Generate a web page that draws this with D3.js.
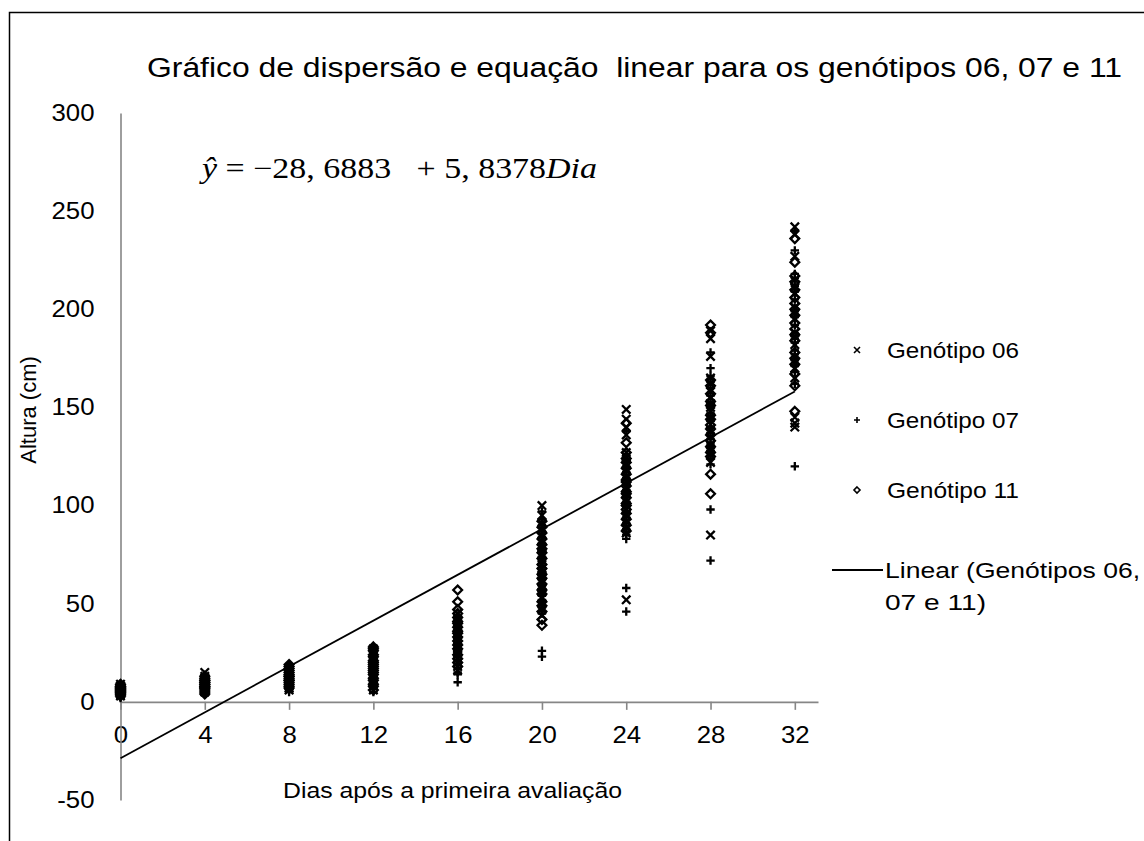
<!DOCTYPE html>
<html>
<head>
<meta charset="utf-8">
<script src="https://cdn.jsdelivr.net/npm/d3@7"></script>
<style>
  body { margin: 0; background: #fff; }
  svg { display: block; }
</style>
</head>
<body>
<div id="chart"></div>
<script>
// dias de avaliação
const dias = [0, 4, 8, 12, 16, 20, 24, 28, 32];
const yTicks = [-50, 0, 50, 100, 150, 200, 250, 300];

// alturas (cm), uma lista por dia
const genotipo06 = [
    [5, 6, 7, 4, 8, 6, 5, 9, 7, 3, 6, 8, 5, 7, 4],
    [8, 10, 12, 6, 9, 11, 15, 7, 13, 9, 5, 10, 8, 12, 11],
    [10, 14, 12, 8, 16, 11, 13, 6, 15, 9, 17, 12, 7, 14, 10],
    [12, 18, 24, 8, 15, 21, 27, 10, 17, 22, 6, 14, 19, 25, 11, 16, 9, 20],
    [20, 28, 35, 42, 16, 25, 31, 38, 45, 22, 29, 34, 18, 40, 27, 33, 24, 37],
    [100, 95, 88, 82, 75, 70, 64, 58, 53, 47, 91, 79, 66, 72, 85, 56, 61, 50, 44, 68],
    [149, 144, 140, 125, 118, 112, 106, 100, 95, 89, 86, 121, 109, 103, 115, 92, 98, 52, 136, 127],
    [189, 185, 176, 165, 158, 150, 145, 138, 131, 126, 122, 155, 162, 148, 135, 85, 129, 152],
    [242, 238, 227, 215, 208, 201, 195, 188, 182, 176, 170, 165, 145, 142, 140, 211, 198, 186, 173]
];
const genotipo07 = [
    [4, 5, 6, 3, 7, 5, 8, 6, 4, 2, 5, 7, 6, 3, 5],
    [7, 9, 11, 5, 8, 10, 12, 6, 4, 9, 13, 7, 10, 8, 6],
    [9, 12, 15, 7, 11, 13, 5, 16, 10, 14, 8, 12, 17, 6, 11],
    [10, 16, 22, 28, 7, 13, 19, 25, 11, 17, 23, 5, 14, 20, 26, 9, 15, 21],
    [10, 15, 23, 30, 36, 44, 19, 26, 32, 39, 21, 28, 17, 34, 41, 25, 14, 30],
    [97, 90, 84, 77, 71, 65, 59, 54, 48, 26, 23, 81, 74, 62, 87, 67, 57, 93, 52, 45],
    [138, 126, 120, 114, 108, 102, 97, 91, 85, 83, 123, 117, 111, 105, 99, 94, 88, 58, 46, 119],
    [178, 170, 163, 156, 147, 140, 134, 128, 124, 98, 72, 160, 152, 143, 137, 121, 166, 132],
    [240, 230, 218, 212, 205, 199, 192, 185, 179, 174, 168, 162, 120, 209, 196, 183, 171, 216, 177]
];
const genotipo11 = [
    [6, 7, 5, 8, 4, 6, 9, 7, 5, 3, 6, 8, 4, 7, 5],
    [9, 11, 6, 10, 8, 12, 7, 5, 13, 9, 11, 4, 10, 8, 7],
    [19, 13, 11, 15, 9, 16, 12, 8, 14, 10, 17, 7, 13, 18, 11],
    [14, 20, 26, 9, 17, 23, 12, 18, 28, 6, 15, 21, 27, 11, 19, 24, 8, 16],
    [57, 51, 47, 43, 38, 33, 29, 24, 20, 36, 41, 27, 31, 45, 22, 35, 18, 40],
    [92, 86, 80, 73, 68, 63, 57, 51, 46, 42, 39, 89, 76, 70, 83, 60, 55, 49, 78, 65],
    [142, 132, 124, 119, 113, 107, 101, 96, 90, 87, 122, 116, 110, 104, 93, 127, 98, 112, 106, 100],
    [192, 188, 164, 157, 151, 146, 141, 136, 130, 125, 116, 106, 161, 153, 139, 127, 144, 133],
    [236, 224, 217, 210, 203, 197, 190, 184, 178, 172, 167, 161, 148, 214, 200, 187, 175, 206, 193]
];

// regressão linear ajustada
const intercepto = -28.6883;
const inclinacao = 5.8378;

const width = 1144, height = 841;
const svg = d3.select("#chart").append("svg")
    .attr("width", width).attr("height", height);

// moldura
svg.append("rect")
    .attr("x", 9.5).attr("y", 12.5).attr("width", 1200).attr("height", 900)
    .attr("fill", "#fff").attr("stroke", "#000").attr("stroke-width", 1.5);

const x = d3.scaleLinear().domain([0, 33.1]).range([120.5, 818]);
const y = d3.scaleLinear().domain([-50, 300]).range([800, 113]);

const font = "'Liberation Sans', Arial, sans-serif";
const grey = "#868686";

// o texto do original é um pouco mais largo: estica na horizontal
function alarga(sel, fator) {
    sel.each(function () {
        const w = this.getComputedTextLength();
        d3.select(this).attr("textLength", w * fator).attr("lengthAdjust", "spacingAndGlyphs");
    });
}

// eixo X
const gx = svg.append("g").attr("transform", `translate(0,${y(0)})`)
    .call(d3.axisBottom(x).tickValues(dias).tickSizeInner(8).tickSizeOuter(0).tickPadding(17));
gx.select(".domain").attr("stroke", grey).attr("stroke-width", 1.6);
gx.selectAll(".tick line").attr("stroke", grey).attr("stroke-width", 1.6);
gx.selectAll(".tick text").attr("font-family", font).attr("font-size", 23).attr("fill", "#000");

// eixo Y
const gy = svg.append("g").attr("transform", `translate(${x(0)},0)`)
    .call(d3.axisLeft(y).tickValues(yTicks).tickSize(0).tickPadding(26).tickFormat(d => String(d)));
gy.select(".domain").attr("stroke", grey).attr("stroke-width", 1.6);
gy.selectAll(".tick text").attr("font-family", font).attr("font-size", 23).attr("fill", "#000");

// marcadores
function markerPath(tipo, r) {
    if (tipo === "x") return `M${-r},${-r}L${r},${r}M${-r},${r}L${r},${-r}`;
    if (tipo === "+") return `M${-r},0L${r},0M0,${-r}L0,${r}`;
    return `M0,${-r}L${r},0L0,${r}L${-r},0Z`;
}

const series = [
    { nome: "Genótipo 06", valores: genotipo06, tipo: "x" },
    { nome: "Genótipo 07", valores: genotipo07, tipo: "+" },
    { nome: "Genótipo 11", valores: genotipo11, tipo: "d" }
];

series.forEach(s => {
    const pts = [];
    s.valores.forEach((lista, i) => lista.forEach(v => pts.push({ dia: dias[i], altura: v })));
    svg.append("g").selectAll("path")
        .data(pts).enter().append("path")
        .attr("transform", d => `translate(${x(d.dia)},${y(d.altura)})`)
        .attr("d", markerPath(s.tipo, s.tipo === "d" ? 4.4 : 4.2))
        .attr("fill", "none").attr("stroke", "#000").attr("stroke-width", 2.3);
});

// linha de tendência
const linha = [0, 32].map(d => ({ dia: d, altura: intercepto + inclinacao * d }));
svg.append("path")
    .datum(linha)
    .attr("d", d3.line().x(d => x(d.dia)).y(d => y(d.altura)))
    .attr("stroke", "#000").attr("stroke-width", 1.8).attr("fill", "none");

// título
svg.append("text")
    .attr("x", 147).attr("y", 77)
    .attr("font-family", font).attr("font-size", 27)
    .attr("xml:space", "preserve")
    .attr("textLength", 975).attr("lengthAdjust", "spacingAndGlyphs")
    .text("Gráfico de dispersão e equação  linear para os genótipos 06, 07 e 11");

// títulos dos eixos
svg.append("text")
    .attr("transform", "translate(36,410) rotate(-90)")
    .attr("text-anchor", "middle")
    .attr("font-family", font).attr("font-size", 22)
    .text("Altura (cm)");
svg.append("text")
    .attr("x", 283).attr("y", 798)
    .attr("font-family", font).attr("font-size", 22)
    .attr("textLength", 339).attr("lengthAdjust", "spacingAndGlyphs")
    .text("Dias após a primeira avaliação");

// equação
const eq = svg.append("text")
    .attr("x", 202).attr("y", 178)
    .attr("font-family", "'Liberation Serif', 'Times New Roman', serif")
    .attr("font-size", 29)
    .attr("xml:space", "preserve")
    .attr("textLength", 395).attr("lengthAdjust", "spacingAndGlyphs");
eq.append("tspan").attr("font-style", "italic").text("ŷ");
eq.append("tspan").text(" = −28, 6883   + 5, 8378");
eq.append("tspan").attr("font-style", "italic").text("Dia");

// legenda
const legenda = svg.append("g");
series.forEach((s, i) => {
    const ly = 350 + i * 70;
    legenda.append("path")
        .attr("transform", `translate(857,${ly})`)
        .attr("d", markerPath(s.tipo, 3))
        .attr("fill", "none").attr("stroke", "#000").attr("stroke-width", 1.6);
    legenda.append("text")
        .attr("x", 887).attr("y", ly + 8)
        .attr("font-family", font).attr("font-size", 22)
        .attr("textLength", 132).attr("lengthAdjust", "spacingAndGlyphs")
        .text(s.nome);
});
legenda.append("line")
    .attr("x1", 832).attr("x2", 883).attr("y1", 570).attr("y2", 570)
    .attr("stroke", "#000").attr("stroke-width", 1.8);
legenda.append("text")
    .attr("x", 885).attr("y", 578)
    .attr("font-family", font).attr("font-size", 22)
    .attr("textLength", 255).attr("lengthAdjust", "spacingAndGlyphs")
    .text("Linear (Genótipos 06,");
legenda.append("text")
    .attr("x", 885).attr("y", 610)
    .attr("font-family", font).attr("font-size", 22)
    .attr("textLength", 101).attr("lengthAdjust", "spacingAndGlyphs")
    .text("07 e 11)");

alarga(gx.selectAll(".tick text"), 1.12);
alarga(gy.selectAll(".tick text"), 1.12);
</script>
</body>
</html>
